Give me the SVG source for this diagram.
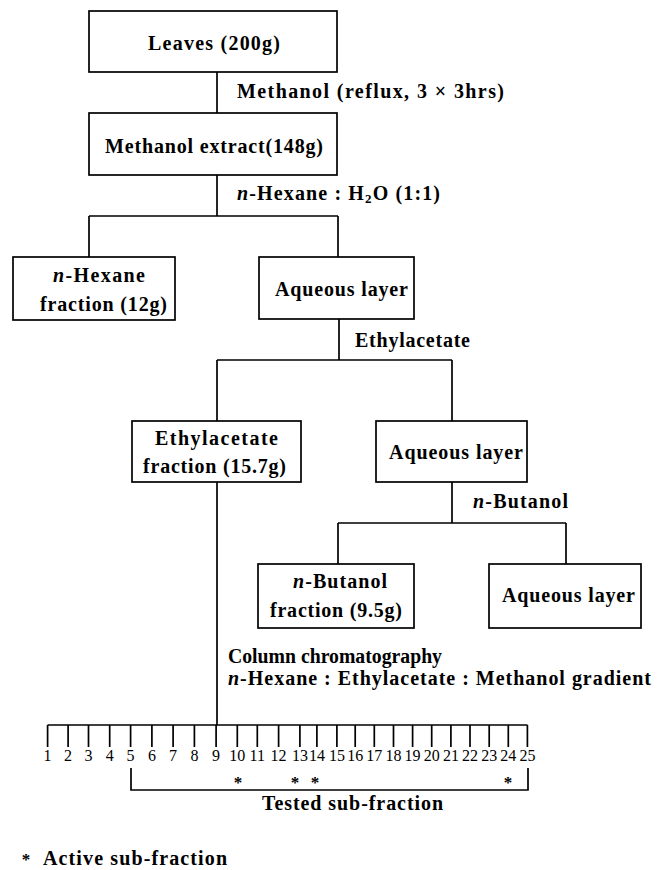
<svg xmlns="http://www.w3.org/2000/svg" width="667" height="870" viewBox="0 0 667 870">
<style>
.box{fill:#fff;stroke:#000;stroke-width:1.7}
.ln{fill:none;stroke:#000;stroke-width:1.7}
.t{font-family:"Liberation Serif","Times New Roman",serif;font-weight:bold;font-size:20px;fill:#000}
.n{font-family:"Liberation Serif","Times New Roman",serif;font-size:16px;fill:#000;text-anchor:middle}
.a{font-family:"Liberation Serif","Times New Roman",serif;font-weight:bold;font-size:17px;fill:#000;text-anchor:middle}
</style>
<rect width="667" height="870" fill="#fff"/>
<g id="connectors">
<path class="ln" d="M217,72V113"/>
<path class="ln" d="M217,175V216M89,216H338M89,216V257M338,216V257"/>
<path class="ln" d="M339,319V360M217,360H452M217,360V421M452,360V421"/>
<path class="ln" d="M452,482V523M338,523H566M338,523V564M566,523V564"/>
<path class="ln" d="M217,482V725"/>
</g>
<g id="leaves">
<rect class="box" x="89" y="11" width="248" height="61"/>
<text class="t" x="148" y="50" textLength="132" lengthAdjust="spacing">Leaves (200g)</text>
</g>
<g id="label-methanol">
<text class="t" x="237" y="98" textLength="267" lengthAdjust="spacing">Methanol (reflux, 3 × 3hrs)</text>
</g>
<g id="methanol-extract">
<rect class="box" x="89" y="113" width="248" height="62"/>
<text class="t" x="105" y="153" textLength="218" lengthAdjust="spacing">Methanol extract(148g)</text>
</g>
<g id="label-hexane-water">
<text class="t" x="237" y="200" textLength="203" lengthAdjust="spacing"><tspan font-style="italic">n</tspan>-Hexane : H<tspan font-size="13" dy="3">2</tspan><tspan dy="-3">O (1:1)</tspan></text>
</g>
<g id="hexane-fraction">
<rect class="box" x="13" y="257" width="162" height="63"/>
<text class="t" x="53" y="282" textLength="92" lengthAdjust="spacing"><tspan font-style="italic">n</tspan>-Hexane</text>
<text class="t" x="40" y="311" textLength="127" lengthAdjust="spacing">fraction (12g)</text>
</g>
<g id="aqueous-1">
<rect class="box" x="259" y="257" width="155" height="62"/>
<text class="t" x="275" y="296" textLength="133" lengthAdjust="spacing">Aqueous layer</text>
</g>
<g id="label-ethylacetate">
<text class="t" x="355" y="347" textLength="115" lengthAdjust="spacing">Ethylacetate</text>
</g>
<g id="ethylacetate-fraction">
<rect class="box" x="132" y="421" width="169" height="61"/>
<text class="t" x="155" y="445" textLength="123" lengthAdjust="spacing">Ethylacetate</text>
<text class="t" x="143" y="473" textLength="143" lengthAdjust="spacing">fraction (15.7g)</text>
</g>
<g id="aqueous-2">
<rect class="box" x="376" y="421" width="151" height="61"/>
<text class="t" x="389" y="459" textLength="134" lengthAdjust="spacing">Aqueous layer</text>
</g>
<g id="label-butanol">
<text class="t" x="473" y="508" textLength="95" lengthAdjust="spacing"><tspan font-style="italic">n</tspan>-Butanol</text>
</g>
<g id="butanol-fraction">
<rect class="box" x="258" y="564" width="156" height="64"/>
<text class="t" x="293" y="588" textLength="94" lengthAdjust="spacing"><tspan font-style="italic">n</tspan>-Butanol</text>
<text class="t" x="270" y="617" textLength="132" lengthAdjust="spacing">fraction (9.5g)</text>
</g>
<g id="aqueous-3">
<rect class="box" x="489" y="564" width="152" height="64"/>
<text class="t" x="502" y="602" textLength="133" lengthAdjust="spacing">Aqueous layer</text>
</g>
<g id="label-column">
<text class="t" x="228" y="663" textLength="214" lengthAdjust="spacingAndGlyphs">Column chromatography</text>
<text class="t" x="228" y="685" textLength="423" lengthAdjust="spacing"><tspan font-style="italic">n</tspan>-Hexane : Ethylacetate : Methanol gradient</text>
</g>
<g id="sub-fractions">
<path class="ln" d="M47.6,725H527.4M47.6,725V747M68.1,725V747M88.5,725V747M109.7,725V747M130.6,725V747M151.9,725V747M173.1,725V747M194.4,725V747M216.1,725V747M237.3,725V747M257.3,725V747M278.6,725V747M299.9,725V747M316.9,725V747M336.9,725V747M355.2,725V747M374.3,725V747M393.5,725V747M412.6,725V747M431.7,725V747M450.9,725V747M470,725V747M489.2,725V747M508.3,725V747M527.4,725V747"/>
<text class="n" y="761"><tspan x="47.6">1</tspan><tspan x="68.1">2</tspan><tspan x="88.5">3</tspan><tspan x="109.7">4</tspan><tspan x="130.6">5</tspan><tspan x="151.9">6</tspan><tspan x="173.1">7</tspan><tspan x="194.4">8</tspan><tspan x="216.1">9</tspan><tspan x="237.3">10</tspan><tspan x="257.3">11</tspan><tspan x="278.6">12</tspan><tspan x="299.9">13</tspan><tspan x="316.9">14</tspan><tspan x="336.9">15</tspan><tspan x="355.2">16</tspan><tspan x="374.3">17</tspan><tspan x="393.5">18</tspan><tspan x="412.6">19</tspan><tspan x="431.7">20</tspan><tspan x="450.9">21</tspan><tspan x="470">22</tspan><tspan x="489.2">23</tspan><tspan x="508.3">24</tspan><tspan x="527.4">25</tspan></text>
</g>
<g id="tested-bracket">
<path class="ln" d="M131,768V790H528V768"/>
<text class="a" y="788"><tspan x="238">*</tspan><tspan x="295">*</tspan><tspan x="315">*</tspan><tspan x="508">*</tspan></text>
<text class="t" x="262" y="810" textLength="181" lengthAdjust="spacing">Tested sub-fraction</text>
</g>
<g id="legend">
<text class="t" y="865"><tspan class="a" x="26">*</tspan><tspan x="43" textLength="184" lengthAdjust="spacing">Active sub-fraction</tspan></text>
</g>
</svg>
